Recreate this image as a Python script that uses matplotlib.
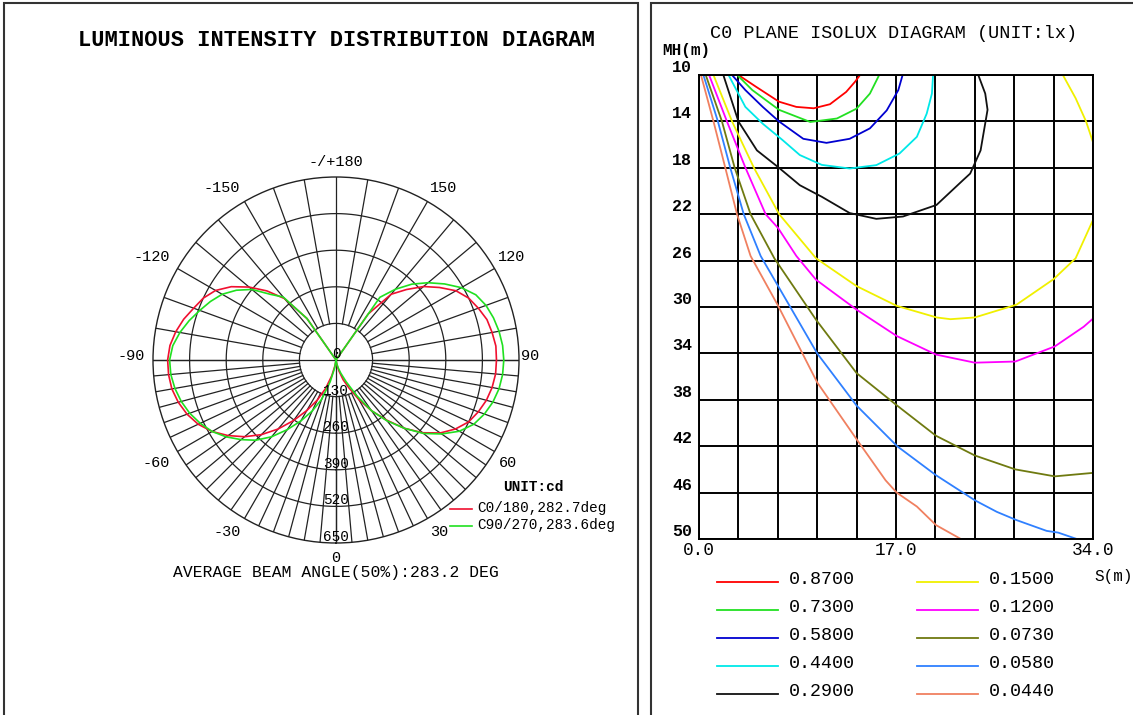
import matplotlib
matplotlib.use('Agg')
import matplotlib.pyplot as plt
import numpy as np
from matplotlib.lines import Line2D
from matplotlib.patches import Rectangle

W, H = 1133, 715
MONO = 'Liberation Mono'

# ---- luminous intensity data (gamma in deg, intensity in cd) ----
gamma = [0, 5, 10, 15, 20, 25, 30, 35, 40, 45, 50, 55, 60, 65, 70, 75, 80, 85, 90,
         95, 100, 105, 110, 115, 120, 125, 130, 135, 140, 145, 147.5,
         150, 155, 160, 165, 170, 175, 180]
c0 = [0, 0, 15, 40, 75, 110, 162, 220, 278, 343, 402, 452, 490, 520, 538, 553, 563, 569, 570,
      570, 563, 555, 538, 520, 492, 449, 406, 354, 305, 200, 0,
      0, 0, 0, 0, 0, 0, 0]
c180 = [0, 0, 20, 58, 107, 157, 207, 262, 320, 375, 424, 468, 508, 540, 563, 580, 592, 597, 598,
        592, 578, 560, 538, 520, 494, 454, 403, 347, 285, 180, 0,
        0, 0, 0, 0, 0, 0, 0]
c90 = [0, 0, 10, 28, 50, 85, 145, 220, 282, 343, 406, 458, 506, 540, 561, 577, 588, 594, 596,
       594, 588, 579, 567, 548, 514, 471, 427, 381, 328, 272, 0,
       0, 0, 0, 0, 0, 0, 0]
c270 = [0, 0, 30, 80, 148, 200, 250, 302, 356, 403, 440, 476, 508, 532, 553, 569, 581, 589, 591,
        582, 563, 540, 515, 492, 467, 432, 390, 330, 292, 180, 0,
        0, 0, 0, 0, 0, 0, 0]
rings = [130, 260, 390, 520, 650]
angle_labels = ['-/+180', '150', '-150', '120', '-120', '90', '-90', '60', '-60', '30', '-30', '0']
legend_polar = ['C0/180,282.7deg', 'C90/270,283.6deg']

# ---- isolux data (S in m, MH in m) ----
levels = ['0.8700', '0.7300', '0.5800', '0.4400', '0.2900',
          '0.1500', '0.1200', '0.0730', '0.0580', '0.0440']
colors = ['#ff0000', '#22e022', '#0000d0', '#00e8e8', '#111111',
          '#f0f000', '#ff00ff', '#6f7a10', '#2f80ff', '#f08060']
iso_s = [
    [3.4, 4.9, 6.9, 8.4, 9.9, 11.3, 12.7, 13.45, 13.9],
    [3.3, 4.6, 6.9, 9.6, 11.9, 13.6, 14.75, 15.55],
    [2.85, 4.0, 5.5, 6.9, 9.0, 11.0, 13.0, 14.75, 16.2, 17.2, 17.57],
    [2.55, 4.0, 5.5, 7.2, 8.7, 10.6, 13.0, 15.3, 17.3, 18.8, 19.65, 20.1, 20.2],
    [2.1, 3.4, 5.0, 6.9, 8.7, 10.6, 13.0, 15.3, 17.6, 20.5, 22.8, 23.4, 24.3, 24.9, 24.7, 24.1],
    [1.25, 2.85, 4.74, 6.92, 10.1, 13.6, 17.06, 20.5, 21.7, 23.8, 27.4, 30.6, 32.5, 34.0],
    [0.87, 2.41, 4.01, 5.75, 6.83, 8.4, 10.1, 13.6, 17.06, 20.45, 23.8, 27.3, 30.7, 33.2, 34.0],
    [0.58, 1.98, 3.08, 4.45, 6.5, 10.1, 13.6, 17.1, 20.45, 23.8, 27.3, 30.7, 34.0],
    [0.38, 1.63, 2.7, 3.86, 5.32, 6.83, 10.2, 13.6, 17.1, 20.45, 23.8, 25.7, 27.4, 30.0, 31.0, 32.6],
    [0.17, 1.25, 2.27, 3.28, 4.45, 6.83, 10.2, 13.6, 16.1, 17.06, 18.8, 20.45, 21.7, 22.6],
]
iso_mh = [
    [10.0, 11.0, 12.3, 12.75, 12.87, 12.52, 11.46, 10.6, 10.0],
    [10.0, 11.3, 13.0, 14.05, 13.75, 12.9, 11.6, 10.0],
    [10.0, 11.3, 12.75, 14.0, 15.5, 15.85, 15.5, 14.6, 13.05, 11.3, 10.0],
    [10.0, 12.75, 14.2, 15.6, 16.9, 17.75, 18.06, 17.77, 16.77, 15.33, 13.33, 11.6, 10.0],
    [10.0, 14.0, 16.5, 18.0, 19.5, 20.5, 21.9, 22.4, 22.2, 21.2, 19.05, 18.5, 16.5, 13.0, 11.6, 10.0],
    [10.0, 14.0, 18.0, 22.0, 25.8, 28.2, 29.9, 30.9, 31.05, 30.9, 29.8, 27.6, 25.8, 22.5],
    [10.0, 14.0, 18.0, 22.0, 23.2, 25.6, 27.65, 30.23, 32.5, 34.1, 34.8, 34.7, 33.4, 31.7, 31.0],
    [10.0, 14.0, 18.0, 22.0, 25.8, 31.1, 35.7, 38.5, 41.1, 42.8, 44.0, 44.6, 44.3],
    [10.0, 14.0, 18.0, 22.0, 25.6, 28.2, 34.0, 38.5, 42.0, 44.5, 46.66, 47.66, 48.37, 49.3, 49.45, 50.0],
    [10.0, 14.0, 18.0, 22.0, 25.6, 29.9, 36.5, 41.4, 44.94, 46.0, 47.2, 48.8, 49.5, 50.0],
]
# second branch of the 0.15 line (top right corner)
yellow2_s = [31.4, 32.5, 33.4, 34.0]
yellow2_mh = [10.0, 12.0, 14.0, 15.8]
mh_ticks = [10, 14, 18, 22, 26, 30, 34, 38, 42, 46, 50]
s_labels = {0.0: '0.0', 17.0: '17.0', 34.0: '34.0'}


def fx(x):
    return x / W


def fy(y):
    return 1 - y / H


fig = plt.figure(figsize=(W / 100, H / 100), dpi=100)
fig.patch.set_facecolor('white')

# panel frames
fig.add_artist(Rectangle((fx(4), -0.01), fx(638 - 4), fy(3) + 0.01, fill=False,
                         edgecolor='#333333', lw=1.5))
fig.add_artist(Rectangle((fx(651), -0.01), fx(600), fy(3) + 0.01, fill=False,
                         edgecolor='#333333', lw=1.5))

# ================= left: polar diagram =================
cx, cy, R = 336, 360, 183
ax = fig.add_axes([fx(cx - R), fy(cy + R), fx(2 * R), 2 * R / H], projection='polar')
ax.set_theta_zero_location('S')
ax.set_ylim(0, rings[-1])
ax.grid(False)
ax.set_xticks([])
ax.set_yticks([])
ax.spines['polar'].set_linewidth(1.0)
ax.spines['polar'].set_color('#222222')

gc = '#222222'
th = np.linspace(0, 2 * np.pi, 721)
for r in rings[:-1]:
    ax.plot(th, np.full_like(th, r), color=gc, lw=0.9)
spokes = list(range(-90, 91, 5)) + list(range(100, 180, 10)) + list(range(-170, -90, 10))
for g in spokes:
    ax.plot([np.radians(g)] * 2, [rings[0], rings[-1]], color=gc, lw=0.9)
for g in [0, 90, 180, -90]:
    ax.plot([np.radians(g)] * 2, [0, rings[-1]], color=gc, lw=0.9)

g = np.radians(gamma)
ax.plot(g, c0, color='#f01030', lw=1.2)
ax.plot(-g, c180, color='#f01030', lw=1.2)
ax.plot(g, c90, color='#20e020', lw=1.2)
ax.plot(-g, c270, color='#20e020', lw=1.2)

fig.text(fx(336), fy(40), 'LUMINOUS INTENSITY DISTRIBUTION DIAGRAM', family=MONO,
         weight='bold', fontsize=15.8, ha='center', va='center')

label_pos = [(336, 162), (444, 188), (222, 188), (512, 257), (152, 257),
             (530, 356), (131, 356), (508, 463), (156, 463), (439, 532), (227, 532),
             (336, 558)]
for txt, (x, y) in zip(angle_labels, label_pos):
    fig.text(fx(x), fy(y), txt, family=MONO, fontsize=11, ha='center', va='center')

fig.text(fx(336), fy(354), '0', family=MONO, fontsize=10.4, ha='center', va='center')
for k, r in enumerate(rings):
    fig.text(fx(336), fy(cy + (k + 1) * R / 5 - 6), str(r), family=MONO, fontsize=10.4,
             ha='center', va='center')

fig.text(fx(533), fy(487), 'UNIT:cd', family=MONO, weight='bold', fontsize=10.4,
         ha='center', va='center')
for txt, col, y in zip(legend_polar, ['#f01030', '#20e020'], [509, 526]):
    fig.add_artist(Line2D([fx(450), fx(472)], [fy(y), fy(y)], color=col, lw=1.2))
    fig.text(fx(477), fy(y - 1), txt, family=MONO, fontsize=10.4, ha='left', va='center')

fig.text(fx(336), fy(572), 'AVERAGE BEAM ANGLE(50%):283.2 DEG', family=MONO,
         fontsize=11.8, ha='center', va='center')

# ================= right: isolux diagram =================
ax2 = fig.add_axes([fx(699), fy(539), fx(394), 464 / H])
ax2.set_xlim(0, 34)
ax2.set_ylim(50, 10)
xt = np.round(np.arange(0, 34.01, 3.4), 2)
ax2.set_xticks(xt)
ax2.set_xticklabels([s_labels.get(float(v), '') for v in xt], family=MONO, fontsize=12.8)
ax2.set_yticks(mh_ticks)
ax2.set_yticklabels([str(v) for v in mh_ticks], family=MONO, fontsize=12, weight='bold')
for lbl in ax2.get_yticklabels():
    lbl.set_va('bottom')
ax2.tick_params(length=0, pad=5)
ax2.tick_params(axis='x', pad=2)
ax2.grid(True, color='black', lw=1.4)
for sp in ax2.spines.values():
    sp.set_linewidth(1.4)
    sp.set_color('black')

for s, m, col in zip(iso_s, iso_mh, colors):
    ax2.plot(s, m, color=col, lw=1.3, clip_on=True)
ax2.plot(yellow2_s, yellow2_mh, color=colors[5], lw=1.3)

fig.text(fx(894), fy(33), 'C0 PLANE ISOLUX DIAGRAM (UNIT:lx)', family=MONO,
         fontsize=13.3, ha='center', va='center')
fig.text(fx(662), fy(51), 'MH(m)', family=MONO, fontsize=11.5, weight='bold',
         ha='left', va='center')
fig.text(fx(1094), fy(577), 'S(m)', family=MONO, fontsize=11.5, ha='left', va='center')

rows = [582, 610, 638, 666, 694]
for i, (lev, col) in enumerate(zip(levels, colors)):
    col_i, row_i = divmod(i, 5)
    x0 = 717 + col_i * 200
    y = rows[row_i]
    fig.add_artist(Line2D([fx(x0), fx(x0 + 61)], [fy(y), fy(y)], color=col, lw=1.3))
    fig.text(fx(x0 + 72), fy(y - 2), lev, family=MONO, fontsize=13.2, ha='left', va='center')

fig.savefig('out.png', dpi=100)
plt.close(fig)
